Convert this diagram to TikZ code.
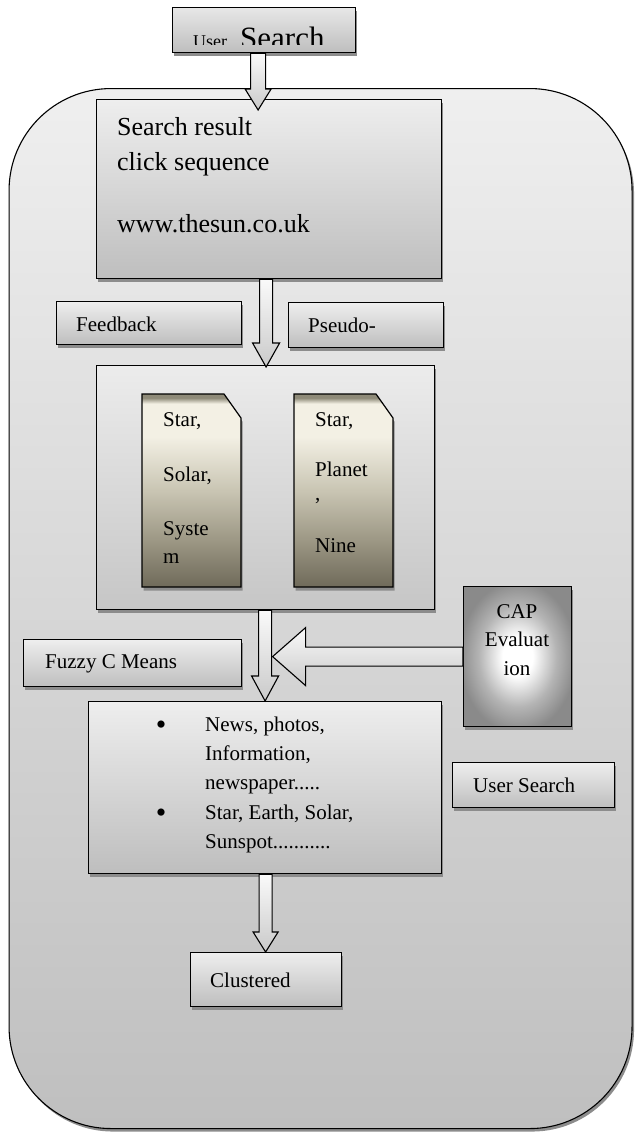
\documentclass[tikz,border=0pt]{standalone}
\usepackage{fontspec}
\setmainfont{Liberation Serif}
\usetikzlibrary{shadows,calc}

\definecolor{boxtop}{HTML}{EEEEEE}
\definecolor{boxbot}{HTML}{BEBEBE}
\definecolor{ustop}{HTML}{E7E7E7}
\definecolor{mbtop}{HTML}{ECECEC}
\definecolor{mbbot}{HTML}{C6C6C6}
\definecolor{frametop}{HTML}{EFEFEF}
\definecolor{framebot}{HTML}{BFBFBF}
\definecolor{docdark}{HTML}{6F6A5A}
\definecolor{docmd}{HTML}{9C9784}
\definecolor{docmid}{HTML}{C9C5B3}
\definecolor{doclight}{HTML}{F3F0E4}
\definecolor{docband}{HTML}{8E8A78}
\definecolor{capedge}{HTML}{8A8A8A}
\definecolor{capmid}{HTML}{B4B4B4}

\pgfdeclareverticalshading{parch}{100bp}{color(0bp)=(docdark); color(25bp)=(docdark); color(37bp)=(docmd); color(50bp)=(docmid); color(64bp)=(doclight); color(72.5bp)=(doclight); color(74bp)=(docband); color(100bp)=(docband)}
\pgfdeclareradialshading{capshade}{\pgfpoint{0bp}{0bp}}{color(0bp)=(white); color(7bp)=(white); color(18bp)=(capmid); color(27bp)=(capedge); color(50bp)=(capedge)}

\newcommand\vblockarrow[5]{%
  \path[blockarrow] let \p1=(#1), \p2=(#2) in
    (\x1-#3pt,\y1) -- (\x1-#3pt,\y2+#5pt) -- (\x1-#4pt,\y2+#5pt) -- (\x1,\y2)
    -- (\x1+#4pt,\y2+#5pt) -- (\x1+#3pt,\y2+#5pt) -- (\x1+#3pt,\y1) -- cycle;}
\newcommand\hblockarrow[5]{%
  \path[blockarrow] let \p1=(#1), \p2=(#2) in
    (\x1,\y1+#3pt) -- (\x2+#5pt,\y1+#3pt) -- (\x2+#5pt,\y1+#4pt) -- (\x2,\y1)
    -- (\x2+#5pt,\y1-#4pt) -- (\x2+#5pt,\y1-#3pt) -- (\x1,\y1-#3pt) -- cycle;}

\begin{document}
\begin{tikzpicture}[x=1pt,y=-1pt,
  shad/.style={drop shadow={shadow xshift=1.5pt, shadow yshift=-3.5pt, fill=black!45, opacity=1}},
  box/.style={draw=black, line width=1.2pt, inner sep=0pt, anchor=north west,
    top color=boxtop, bottom color=boxbot, shad},
  frame/.style={draw=black, line width=1.1pt, inner sep=0pt, anchor=north west,
    rounded corners=102pt, top color=frametop, bottom color=framebot,
    drop shadow={shadow xshift=2pt, shadow yshift=-3pt, fill=black!45, opacity=1}},
  docshape/.style={draw=black, line width=1.2pt, shading=parch, shad},
  capbox/.style={draw=black, line width=1.2pt, inner sep=0pt, anchor=north west,
    shading=capshade, shad},
  blockarrow/.style={draw=black, line width=1.1pt, line join=miter, top color=gray!4, bottom color=gray!42},
  txt/.style={anchor=base west, inner sep=0pt},
  big/.style={font=\fontsize{26}{30}\selectfont},
  lbl/.style={font=\fontsize{21}{25}\selectfont},
  bullet/.style={anchor=base, inner sep=0pt, font=\fontsize{30}{30}\selectfont},
]
\useasboundingbox (0,0) rectangle (635,1133);

% outer container
\node[frame, minimum width=623pt, minimum height=1040pt] (frame) at (8.5,88) {};

% top "User Search" box
\node[box, minimum width=183pt, minimum height=45pt, top color=ustop, bottom color=boxbot] (us) at (172,7) {};
\begin{scope}
  \clip ($(us.north west)+(1,1)$) rectangle ($(us.south east)+(-1,-9)$);
  \node[txt, font=\fontsize{18}{18}\selectfont] (ususer) at (193,47) {User};
  \node[txt, font=\fontsize{31}{31}\selectfont] (ussearch) at (240,48) {Search};
\end{scope}

% search result box
\node[box, minimum width=345pt, minimum height=179pt] (sr) at (96,99) {};
\node[txt, big] (sr1) at (117,135) {Search result};
\node[txt, big] (sr2) at (117,170) {click sequence};
\node[txt, big] (sr3) at (117,232) {www.thesun.co.uk};

% feedback / pseudo labels
\node[box, minimum width=185pt, minimum height=43pt] (fb) at (56,301) {};
\node[txt, lbl] (fbt) at (76,331) {Feedback};
\node[box, minimum width=155pt, minimum height=45pt] (ps) at (288,302) {};
\node[txt, lbl] (pst) at (308,332) {Pseudo-};

% middle box with documents
\node[box, minimum width=338pt, minimum height=244pt, top color=mbtop, bottom color=mbbot] (mb) at (96,365) {};
\path[docshape] (142,394) -- (224,394) -- (241,418) -- (241,587) -- (142,587) -- cycle;
\path[docshape] (294,394) -- (376,394) -- (393,418) -- (393,587) -- (294,587) -- cycle;
\node[txt, lbl] (d1a) at (163,426) {Star,};
\node[txt, lbl] (d1b) at (163,481) {Solar,};
\node[txt, lbl] (d1c) at (163,535) {Syste};
\node[txt, lbl] (d1d) at (163,563) {m};
\node[txt, lbl] (d2a) at (315,426) {Star,};
\node[txt, lbl] (d2b) at (315,476) {Planet};
\node[txt, lbl] (d2c) at (315,500) {,};
\node[txt, lbl] (d2d) at (315,552) {Nine};

% fuzzy c means
\node[box, minimum width=218pt, minimum height=47pt] (fz) at (23,639) {};
\node[txt, lbl] (fzt) at (45,668) {Fuzzy C Means};

% CAP evaluation
\node[capbox, minimum width=108pt, minimum height=140pt] (cap) at (463,586) {};
\node[anchor=base, inner sep=0pt, lbl] (cap1) at (517,618) {CAP};
\node[anchor=base, inner sep=0pt, lbl] (cap2) at (517,646) {Evaluat};
\node[anchor=base, inner sep=0pt, lbl] (cap3) at (517,675) {ion};

% bullet box
\node[box, minimum width=353pt, minimum height=172pt] (bb) at (88,701) {};
\node[bullet] (b1) at (161,734) {•};
\node[bullet] (b2) at (161,822) {•};
\node[txt, lbl] (bt1) at (205,731) {News, photos,};
\node[txt, lbl] (bt2) at (205,760) {Information,};
\node[txt, lbl] (bt3) at (205,789) {newspaper.....};
\node[txt, lbl] (bt4) at (205,819) {Star, Earth, Solar,};
\node[txt, lbl] (bt5) at (205,848) {Sunspot...........};

% user search (right)
\node[box, minimum width=162pt, minimum height=45pt] (us2) at (452,762) {};
\node[txt, lbl] (us2t) at (473,792) {User Search};

% clustered
\node[box, minimum width=151pt, minimum height=54pt] (cl) at (190,952) {};
\node[txt, lbl] (clt) at (210,987) {Clustered};

% block arrows
\coordinate (a1s) at ($(us.south)+(-6,0)$);
\coordinate (a1t) at ($(sr.north)+(0,11)$);
\vblockarrow{a1s}{a1t}{7.5}{13}{21}
\coordinate (a2s) at ($(sr.south)+(-3,0)$);
\coordinate (a2t) at ($(mb.north)+(0,2)$);
\vblockarrow{a2s}{a2t}{6.5}{13.5}{24}
\coordinate (a3s) at ($(mb.south)+(-0.5,0)$);
\coordinate (a3t) at (bb.north);
\vblockarrow{a3s}{a3t}{6.5}{13.5}{25}
\coordinate (a4s) at ($(bb.south)+(0.5,0)$);
\coordinate (a4t) at (cl.north);
\vblockarrow{a4s}{a4t}{6.5}{12.5}{20}
\coordinate (a5t) at ($(a3s |- cap.west)+(7.5,0)$);
\hblockarrow{cap.west}{a5t}{9.5}{29}{33}
\end{tikzpicture}
\end{document}
